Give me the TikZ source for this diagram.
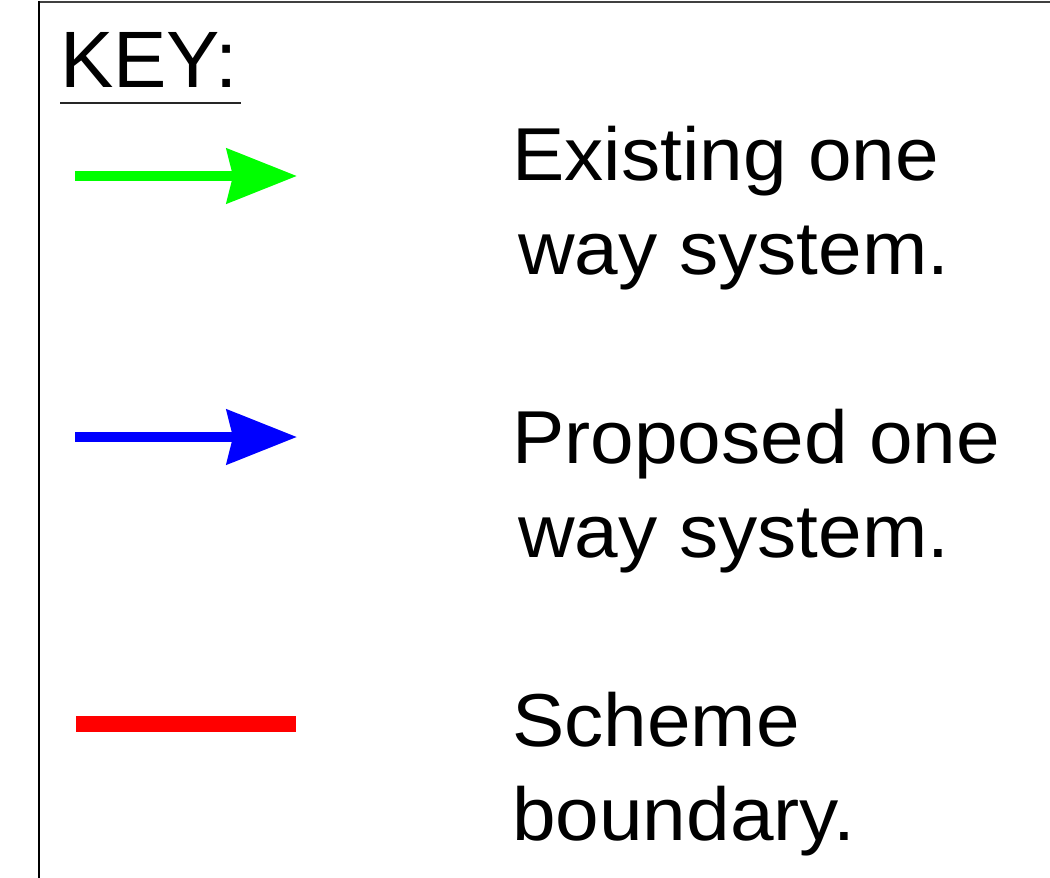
\documentclass[tikz,border=0pt]{standalone}
\usepackage{fontspec}
\setmainfont{Liberation Sans}
\newfontfamily\labelfont{Liberation Sans}[FakeStretch=1.045]
\usetikzlibrary{arrows.meta}
\definecolor{keygreen}{RGB}{0,255,0}
\definecolor{keyblue}{RGB}{0,0,255}
\definecolor{keyred}{RGB}{255,0,0}
\tikzset{
  keyarrow/.style={line width=10pt, -{Stealth[length=70pt,width=54pt,inset=6pt]}},
  keyline/.style={line width=16pt},
  keylabel/.style={anchor=base west, inner sep=0pt, align=left, font=\labelfont\fontsize{75}{94}\selectfont},
  keytitle/.style={anchor=base west, inner sep=0pt, font=\fontsize{80}{96}\selectfont},
}
\begin{document}
\begin{tikzpicture}[x=1pt,y=-1pt]
\useasboundingbox (0,0) rectangle (1050,878);
\begin{scope}
\clip (0,0) rectangle (1050,878);
\fill[white] (0,0) rectangle (1050,878);
\draw[black!75, line width=1.5pt] (39,2) -- (1060,2);
\draw[black, line width=2.2pt] (39,1.3) -- (39,890);
\end{scope}
% title
\node[keytitle] (title) at (60,87) {KEY:};
\coordinate (ulA) at (60,103);
\coordinate (ulB) at (241,103);
\draw[black!85, line width=1.5pt] (ulA) -- (ulB);
% existing
\coordinate (gA) at (75,176);
\coordinate (gB) at (297,176);
\draw[keyarrow, keygreen] (gA) -- (gB);
\node[keylabel] (exist) at (512,274) {Existing one\\\hspace*{6pt}way system.};
% proposed
\coordinate (bA) at (75,437);
\coordinate (bB) at (297,437);
\draw[keyarrow, keyblue] (bA) -- (bB);
\node[keylabel] (prop) at (512,557) {Proposed one\\\hspace*{6pt}way system.};
% boundary
\coordinate (rA) at (76,724);
\coordinate (rB) at (296,724);
\draw[keyline, keyred] (rA) -- (rB);
\node[keylabel] (bound) at (512,840) {Scheme\\boundary.};
\end{tikzpicture}
\end{document}
